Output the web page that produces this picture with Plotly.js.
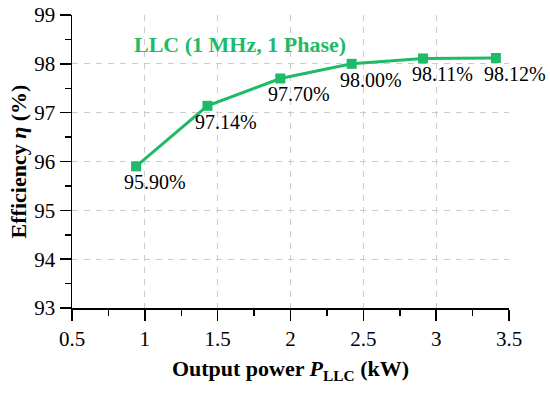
<!DOCTYPE html>
<html><head><meta charset="utf-8">
<script src="https://cdn.plot.ly/plotly-3.0.1.min.js"></script>
<style>html,body{margin:0;padding:0;background:#fff}#chart{width:550px;height:393px}</style>
</head><body><div id="chart"></div>
<script>
const power = [0.94, 1.43, 1.93, 2.42, 2.91, 3.41];
const efficiency = [95.90, 97.14, 97.70, 98.00, 98.11, 98.12];
const pointLabels = efficiency.map(v => v.toFixed(2) + '%');
const seriesName = 'LLC (1 MHz, 1 Phase)';
const green = '#1fba68';
const serif = '"Liberation Serif", "Times New Roman", serif';

const trace = {
  x: power, y: efficiency, type: 'scatter', mode: 'lines+markers',
  name: seriesName,
  line: {color: green, width: 3},
  marker: {symbol: 'square', size: 10, color: green},
  cliponaxis: false, showlegend: false
};
const labelAnns = power.map((p, i) => ({
  x: p, y: efficiency[i], xref: 'x', yref: 'y', text: pointLabels[i],
  showarrow: false, xanchor: 'center', yanchor: 'middle', xshift: 19, yshift: -16,
  font: {family: serif, size: 20, color: '#000'}
}));
const layout = {
  width: 550, height: 393,
  margin: {l: 72, r: 41, t: 15, b: 85},
  paper_bgcolor: '#fff', plot_bgcolor: '#fff',
  font: {family: serif, size: 21, color: '#000'},
  xaxis: {
    range: [0.5, 3.5], dtick: 0.5, tick0: 0.5, tickformat: '.1~f',
    showline: true, linecolor: '#000', linewidth: 1.5,
    ticks: 'outside', ticklen: 11, tickwidth: 1.5, tickcolor: '#000',
    minor: {dtick: 0.25, ticks: 'outside', ticklen: 6, tickwidth: 1.5, tickcolor: '#000', showgrid: false},
    showgrid: true, gridcolor: '#cccccc', gridwidth: 1, griddash: '6px,6px',
    zeroline: false, tickfont: {family: serif, size: 21},
    title: {text: '<b>Output power <i>P</i><sub>LLC</sub> (kW)</b>', font: {family: serif, size: 22}, standoff: 11}
  },
  yaxis: {
    range: [93, 99], dtick: 1, tick0: 93,
    showline: true, linecolor: '#000', linewidth: 1.5,
    ticks: 'outside', ticklen: 11, tickwidth: 1.5, tickcolor: '#000',
    minor: {dtick: 0.5, ticks: 'outside', ticklen: 6, tickwidth: 1.5, tickcolor: '#000', showgrid: false},
    showgrid: true, gridcolor: '#cccccc', gridwidth: 1, griddash: '6px,6px',
    zeroline: false, tickfont: {family: serif, size: 21},
    title: {text: '<b>Efficiency <i>η</i> (%)</b>', font: {family: serif, size: 22}, standoff: 1}
  },
  annotations: [{
    text: '<b>' + seriesName + '</b>', xref: 'paper', yref: 'paper',
    x: 0.385, y: 0.90, xanchor: 'center', yanchor: 'middle', showarrow: false,
    font: {family: serif, size: 22, color: green}
  }].concat(labelAnns)
};
Plotly.newPlot('chart', [trace], layout, {displayModeBar: false, staticPlot: true});
</script></body></html>
